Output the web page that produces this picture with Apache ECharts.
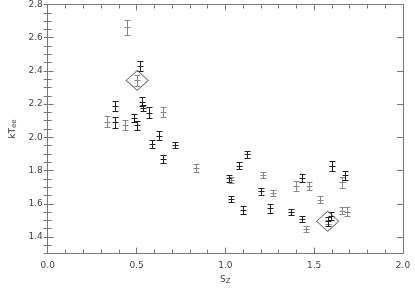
<!DOCTYPE html>
<html>
<head>
<meta charset="utf-8">
<script src="https://cdn.jsdelivr.net/npm/echarts@6/dist/echarts.min.js"></script>
<style>
  html, body { margin: 0; padding: 0; background: #fff; }
  #chart { width: 415px; height: 290px; }
</style>
</head>
<body>
<div id="chart"></div>
<script>
var darkX = [0.376, 0.376, 0.486, 0.504, 0.528, 0.537, 0.568, 0.586, 0.628, 0.647, 0.716, 0.519,
             1.021, 1.030, 1.079, 1.121, 1.098, 1.198, 1.249, 1.372, 1.430, 1.430, 1.600, 1.673, 1.576, 1.595];
var darkY = [2.187, 2.090, 2.116, 2.072, 2.215, 2.177, 2.149, 1.962, 2.010, 1.869, 1.953, 2.430,
             1.753, 1.629, 1.830, 1.897, 1.562, 1.676, 1.573, 1.549, 1.758, 1.510, 1.829, 1.771, 1.495, 1.526];
var darkErr = [0.029, 0.032, 0.024, 0.027, 0.029, 0.017, 0.032, 0.024, 0.026, 0.024, 0.019, 0.031,
               0.022, 0.017, 0.021, 0.022, 0.022, 0.021, 0.026, 0.019, 0.024, 0.017, 0.029, 0.026, 0.026, 0.024];

var greyX = [0.334, 0.437, 0.647, 0.449, 0.504, 0.837, 1.030, 1.213, 1.271, 1.399, 1.472, 1.454,
             1.530, 1.658, 1.658, 1.682, 1.580];
var greyY = [2.095, 2.076, 2.154, 2.663, 2.343, 1.815, 1.743, 1.773, 1.663, 1.707, 1.707, 1.447,
             1.625, 1.730, 1.558, 1.553, 1.500];
var greyErr = [0.035, 0.029, 0.031, 0.046, 0.034, 0.023, 0.019, 0.016, 0.019, 0.029, 0.024, 0.018,
               0.021, 0.032, 0.022, 0.026, 0.023];

// the two points marked with a diamond
var markX = [0.504, 1.576];
var markY = [2.343, 1.495];

var xTicks = [0.0, 0.5, 1.0, 1.5, 2.0];
var yTicks = [1.4, 1.6, 1.8, 2.0, 2.2, 2.4, 2.6, 2.8];

var axisGrey = '#777';
var font = 'DejaVu Sans';

function rows(xs, ys, es) {
  return xs.map(function (x, i) { return [x, ys[i], es[i]]; });
}

function errorBars(color) {
  return function (params, api) {
    var x = api.value(0), y = api.value(1), e = api.value(2);
    var top = api.coord([x, y + e]);
    var bot = api.coord([x, y - e]);
    var mid = api.coord([x, y]);
    var cx = Math.round(top[0]) + 0.5;
    var ty = Math.round(top[1]) + 0.5, by = Math.round(bot[1]) + 0.5, my = Math.round(mid[1]) + 0.5;
    var w = 3;
    var st = { stroke: color, lineWidth: 1 };
    return {
      type: 'group',
      children: [
        { type: 'line', shape: { x1: cx, y1: ty, x2: cx, y2: by }, style: st },
        { type: 'line', shape: { x1: cx - w, y1: ty, x2: cx + w, y2: ty }, style: st },
        { type: 'line', shape: { x1: cx - w, y1: by, x2: cx + w, y2: by }, style: st },
        { type: 'line', shape: { x1: cx - w, y1: my, x2: cx + w, y2: my }, style: st }
      ]
    };
  };
}

function xAxis(pos, labels) {
  return {
    type: 'value', position: pos, min: 0, max: 2, interval: 0.5,
    axisLine: { show: true, onZero: false, lineStyle: { color: axisGrey, width: 1 } },
    axisTick: { show: true, inside: true, length: 6, lineStyle: { color: axisGrey } },
    minorTick: { show: true, splitNumber: 5, length: 4, lineStyle: { color: axisGrey } },
    axisLabel: {
      show: labels, margin: 8, color: '#444', fontFamily: font, fontSize: 9,
      formatter: function (v) { return v.toFixed(1); }
    },
    splitLine: { show: false }, minorSplitLine: { show: false },
    name: labels ? 'S{s|Z}' : '', nameLocation: 'middle', nameGap: 21,
    nameTextStyle: {
      color: '#444', fontFamily: font, fontSize: 9,
      rich: { s: { fontSize: 7, verticalAlign: 'bottom', padding: [3, 0, 0, 0], color: '#444', fontFamily: font } }
    }
  };
}

function yMajor(pos, labels) {
  return {
    type: 'value', position: pos, min: 1.3, max: 2.8,
    axisLine: { show: true, onZero: false, lineStyle: { color: axisGrey, width: 1 } },
    axisTick: { show: true, inside: true, length: 6, customValues: yTicks, lineStyle: { color: axisGrey } },
    axisLabel: {
      show: labels, margin: 5, color: '#444', fontFamily: font, fontSize: 9, customValues: yTicks,
      formatter: function (v) { return v.toFixed(1); }
    },
    splitLine: { show: false },
    name: labels ? 'kT{s|ee}' : '', nameLocation: 'middle', nameGap: 27, nameRotate: 90,
    nameTextStyle: {
      color: '#444', fontFamily: font, fontSize: 9,
      rich: { s: { fontSize: 7, padding: [3, 0, 0, 0], color: '#444', fontFamily: font } }
    }
  };
}

function yMinor(pos) {
  return {
    type: 'value', position: pos, min: 1.3, max: 2.8, interval: 0.05,
    axisLine: { show: false },
    axisTick: { show: true, inside: true, length: 4, lineStyle: { color: axisGrey } },
    axisLabel: { show: false },
    splitLine: { show: false }
  };
}

var chart = echarts.init(document.getElementById('chart'), null, { renderer: 'canvas' });
chart.setOption({
  animation: false,
  backgroundColor: '#fff',
  grid: { left: 38, right: 12, top: 2, bottom: 27 },
  xAxis: [xAxis('bottom', true), xAxis('top', false)],
  yAxis: [yMajor('left', true), yMinor('left'), yMajor('right', false), yMinor('right')],
  series: [
    { type: 'custom', xAxisIndex: 0, yAxisIndex: 0, renderItem: errorBars('#888'),
      data: rows(greyX, greyY, greyErr), encode: { x: 0, y: 1 }, silent: true },
    { type: 'custom', xAxisIndex: 0, yAxisIndex: 0, renderItem: errorBars('#222'),
      data: rows(darkX, darkY, darkErr), encode: { x: 0, y: 1 }, silent: true },
    { type: 'scatter', xAxisIndex: 0, yAxisIndex: 0, symbol: 'diamond', symbolSize: [22, 20],
      itemStyle: { color: 'rgba(0,0,0,0)', borderColor: '#555', borderWidth: 1 },
      data: markX.map(function (x, i) { return [x, markY[i]]; }), silent: true }
  ]
});
</script>
</body>
</html>
